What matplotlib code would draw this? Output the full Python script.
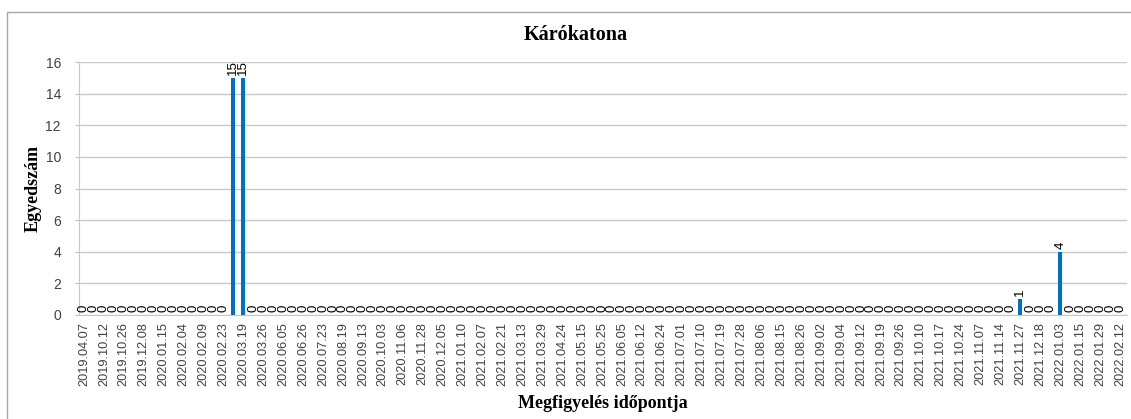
import matplotlib.pyplot as plt
import numpy as np
from matplotlib.patches import Rectangle

# every second observation date is labelled on the axis
date_labels = [
    "2019.04.07", "2019.10.12", "2019.10.26", "2019.12.08", "2020.01.15",
    "2020.02.04", "2020.02.09", "2020.02.23", "2020.03.19", "2020.03.26",
    "2020.06.05", "2020.06.26", "2020.07.23", "2020.08.19", "2020.09.13",
    "2020.10.03", "2020.11.06", "2020.11.28", "2020.12.05", "2021.01.10",
    "2021.02.07", "2021.02.21", "2021.03.13", "2021.03.29", "2021.04.24",
    "2021.05.15", "2021.05.25", "2021.06.05", "2021.06.12", "2021.06.24",
    "2021.07.01", "2021.07.10", "2021.07.19", "2021.07.28", "2021.08.06",
    "2021.08.15", "2021.08.26", "2021.09.02", "2021.09.04", "2021.09.12",
    "2021.09.19", "2021.09.26", "2021.10.10", "2021.10.17", "2021.10.24",
    "2021.11.07", "2021.11.14", "2021.11.27", "2021.12.18", "2022.01.03",
    "2022.01.15", "2022.01.29", "2022.02.12",
]

counts = [0] * 105
counts[15] = 15
counts[16] = 15
counts[94] = 1
counts[98] = 4

title = "Kárókatona"
xlabel = "Megfigyelés időpontja"
ylabel = "Egyedszám"

W, H = 1131, 419
fig = plt.figure(figsize=(W / 100, H / 100), dpi=100)
ax = fig.add_axes([79 / W, 1 - 315 / H, (1127 - 79) / W, (315 - 62) / H])

# outer chart frame (cut off at right/bottom as in the original)
fig.patches.append(Rectangle((7 / W, -0.1), 1.2, 1 - 12 / H + 0.1,
                             transform=fig.transFigure, fill=False,
                             edgecolor="#a6a6a6", linewidth=1.0))

x = np.arange(len(counts))
bars = ax.bar(x, counts, width=0.4, color="#0070c0", zorder=3)

for xi, v in zip(x, counts):
    ax.text(xi, v + 0.2, str(v), rotation=90, ha="center", va="bottom",
            fontsize=9.5, family="Liberation Sans", color="#000000")

ax.set_xlim(-0.5, 104.7)
ax.set_ylim(0, 16)
ax.set_yticks(range(0, 17, 2))
ax.set_xticks(x[::2])
ax.set_xticklabels(date_labels, rotation=90, fontsize=9.2, family="Liberation Sans")
for lbl in ax.get_yticklabels():
    lbl.set_fontsize(10)
    lbl.set_family("Liberation Sans")
    lbl.set_color("#404040")
ax.tick_params(axis="x", length=0, pad=5, colors="#404040")
ax.tick_params(axis="y", length=3, color="#bfbfbf", pad=10)

ax.grid(axis="y", color="#c8c8c8", linewidth=1, zorder=0)
for side in ["top", "right"]:
    ax.spines[side].set_visible(False)
ax.spines["left"].set_color("#c8c8c8")
ax.spines["bottom"].set_color("#c8c8c8")

fig.text(576 / W, 1 - 35 / H, title, ha="center", va="center",
         fontsize=14.5, fontweight="bold", family="Liberation Serif")
fig.text(603 / W, 1 - 403 / H, xlabel, ha="center", va="center",
         fontsize=13, fontweight="bold", family="Liberation Serif")
fig.text(33 / W, 1 - 188 / H, ylabel, ha="center", va="center", rotation=90,
         fontsize=13, fontweight="bold", family="Liberation Serif")

fig.savefig("out.png", dpi=100)
